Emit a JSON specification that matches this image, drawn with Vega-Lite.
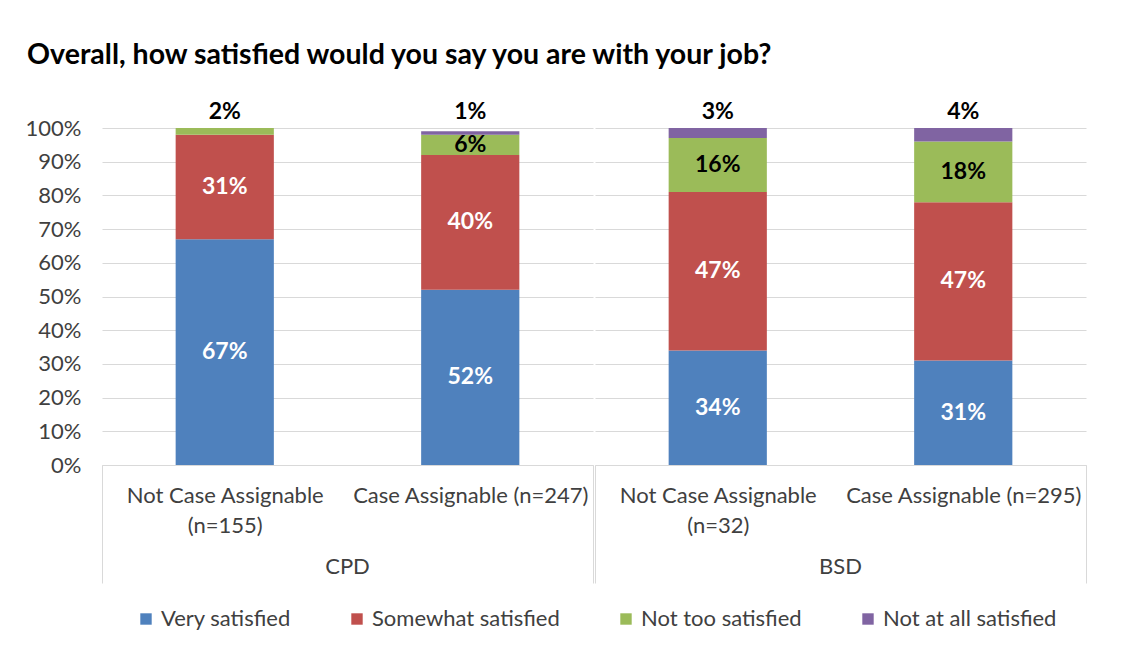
{
  "$schema": "https://vega.github.io/schema/vega-lite/v6.json",
  "padding": {"top": 40, "left": 25, "right": 40, "bottom": 0},
  "background": "white",
  "config": {
    "view": {"stroke": null}
  },
  "title": {
    "text": "Overall, how satisfied would you say you are with your job?",
    "anchor": "start", "frame": "bounds", "dx": 2,
    "fontSize": 28.5, "fontWeight": "bold", "font": "Lato", "color": "black", "offset": 32
  },
  "data": {"values": [
    {"group": "CPD", "sub": "Not Case Assignable|(n=155)", "resp": "Very satisfied", "order": 1, "value": 0.67},
    {"group": "CPD", "sub": "Not Case Assignable|(n=155)", "resp": "Somewhat satisfied", "order": 2, "value": 0.31},
    {"group": "CPD", "sub": "Not Case Assignable|(n=155)", "resp": "Not too satisfied", "order": 3, "value": 0.02},
    {"group": "CPD", "sub": "Not Case Assignable|(n=155)", "resp": "Not at all satisfied", "order": 4, "value": 0},
    {"group": "CPD", "sub": "Case Assignable (n=247)", "resp": "Very satisfied", "order": 1, "value": 0.52},
    {"group": "CPD", "sub": "Case Assignable (n=247)", "resp": "Somewhat satisfied", "order": 2, "value": 0.40},
    {"group": "CPD", "sub": "Case Assignable (n=247)", "resp": "Not too satisfied", "order": 3, "value": 0.06},
    {"group": "CPD", "sub": "Case Assignable (n=247)", "resp": "Not at all satisfied", "order": 4, "value": 0.01},
    {"group": "BSD", "sub": "Not Case Assignable|(n=32)", "resp": "Very satisfied", "order": 1, "value": 0.34},
    {"group": "BSD", "sub": "Not Case Assignable|(n=32)", "resp": "Somewhat satisfied", "order": 2, "value": 0.47},
    {"group": "BSD", "sub": "Not Case Assignable|(n=32)", "resp": "Not too satisfied", "order": 3, "value": 0.16},
    {"group": "BSD", "sub": "Not Case Assignable|(n=32)", "resp": "Not at all satisfied", "order": 4, "value": 0.03},
    {"group": "BSD", "sub": "Case Assignable (n=295)", "resp": "Very satisfied", "order": 1, "value": 0.31},
    {"group": "BSD", "sub": "Case Assignable (n=295)", "resp": "Somewhat satisfied", "order": 2, "value": 0.47},
    {"group": "BSD", "sub": "Case Assignable (n=295)", "resp": "Not too satisfied", "order": 3, "value": 0.18},
    {"group": "BSD", "sub": "Case Assignable (n=295)", "resp": "Not at all satisfied", "order": 4, "value": 0.04}
  ]},
  "transform": [
    {"stack": "value", "groupby": ["group", "sub"], "sort": [{"field": "order", "order": "ascending"}], "as": ["v0", "v1"]}
  ],
  "facet": {
    "column": {
      "field": "group", "type": "nominal", "sort": ["CPD", "BSD"], "title": null,
      "header": {"labelOrient": "bottom", "title": null, "labelFontSize": 22, "labelFont": "Lato", "labelColor": "#404040", "labelPadding": -27}
    }
  },
  "spacing": 0,
  "resolve": {"scale": {"x": "independent"}},
  "spec": {
    "width": 491,
    "height": 337,
    "layer": [
      {
        "mark": {"type": "bar", "width": {"band": 0.4}},
        "encoding": {
          "x": {
            "field": "sub", "type": "nominal", "sort": "descending",
            "scale": {"paddingInner": 0, "paddingOuter": 0},
            "axis": {
              "title": null, "labelAngle": 0,
              "labelExpr": "split(datum.label, '|')",
              "labelFontSize": 22, "labelFont": "Lato", "labelColor": "#404040",
              "labelLineHeight": 30, "labelLimit": 0, "labelPadding": -98,
              "domainColor": "#d9d9d9", "domainWidth": 1,
              "tickBand": "extent", "tickSize": 118, "tickColor": "#d9d9d9", "tickWidth": 1,
              "tickOpacity": {"condition": {"test": "datum.index === 0", "value": 0}, "value": 1}
            }
          },
          "y": {
            "field": "v0", "type": "quantitative",
            "scale": {"domain": [0, 1], "nice": false},
            "axis": {
              "title": null, "format": ".0%",
              "values": [0, 0.1, 0.2, 0.3, 0.4, 0.5, 0.6, 0.7, 0.8, 0.9, 1],
              "tickCount": 20,
              "labelOverlap": false,
              "labelFontSize": 22, "labelFont": "Lato", "labelColor": "#404040",
              "domain": false, "ticks": false, "labelPadding": 20,
              "gridColor": "#d9d9d9", "gridWidth": 1
            }
          },
          "y2": {"field": "v1"},
          "color": {
            "field": "resp", "type": "nominal",
            "scale": {
              "domain": ["Very satisfied", "Somewhat satisfied", "Not too satisfied", "Not at all satisfied"],
              "range": ["#4F81BD", "#C0504D", "#9BBB59", "#8064A2"]
            },
            "legend": {
              "title": null, "orient": "none", "legendX": 33, "legendY": 480, "direction": "horizontal",
              "symbolType": "square", "symbolSize": 130, "symbolStrokeWidth": 0,
              "labelFontSize": 22, "labelFont": "Lato", "labelColor": "#404040", "labelLimit": 0,
              "columnPadding": 55
            }
          }
        }
      },
      {
        "transform": [
          {"filter": "datum.value >= 0.05"},
          {"fold": ["v0", "v1"], "as": ["k", "pos"]}
        ],
        "mark": {"type": "text", "fontSize": 23, "fontWeight": "bold", "font": "Lato", "baseline": "middle"},
        "encoding": {
          "x": {"field": "sub", "type": "nominal", "sort": "descending"},
          "y": {"aggregate": "mean", "field": "pos", "type": "quantitative"},
          "detail": {"field": "resp"},
          "text": {"field": "value", "type": "quantitative", "format": ".0%"},
          "color": {"condition": {"test": "datum.resp === 'Not too satisfied'", "value": "black"}, "value": "white"}
        }
      },
      {
        "transform": [{"filter": "datum.value > 0 && datum.value < 0.05"}],
        "mark": {"type": "text", "fontSize": 23, "fontWeight": "bold", "font": "Lato", "baseline": "middle", "color": "black", "dy": -16},
        "encoding": {
          "x": {"field": "sub", "type": "nominal", "sort": "descending"},
          "y": {"datum": 1, "type": "quantitative"},
          "text": {"field": "value", "type": "quantitative", "format": ".0%"}
        }
      }
    ]
  }
}
